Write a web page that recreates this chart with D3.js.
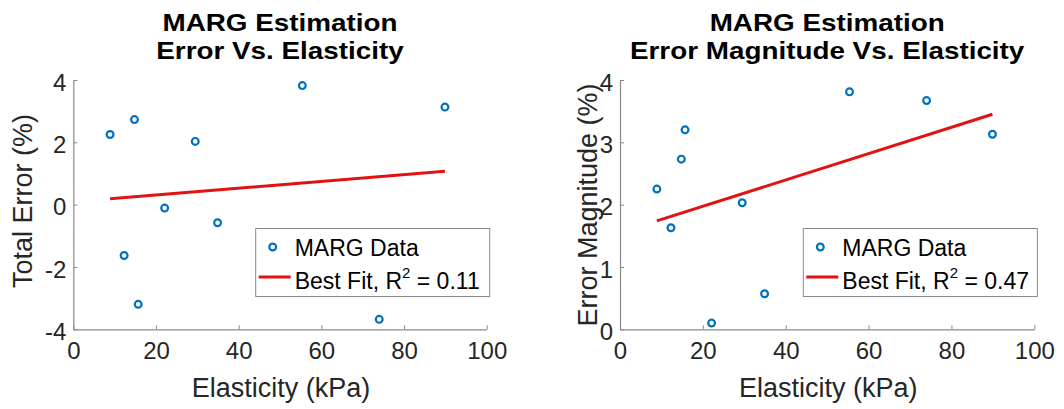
<!DOCTYPE html>
<html>
<head>
<meta charset="utf-8">
<script src="https://cdn.jsdelivr.net/npm/d3@7"></script>
<style>
  body { margin: 0; background: #fff; }
  text { font-family: "Liberation Sans", Arial, sans-serif; }
</style>
</head>
<body>
<div id="chart"></div>
<script>
// data
var elasticity = [8.9, 12.3, 14.8, 15.7, 22.1, 29.5, 34.9, 55.4, 74.0, 89.9]
var totalError = [2.25, -1.63, 2.73, -3.20, -0.11, 2.03, -0.58, 3.82, -3.68, 3.13]
var errorMag = [2.25, 1.63, 2.73, 3.20, 0.10, 2.03, 0.57, 3.81, 3.67, 3.13]

var fitX = [8.9, 89.9]
var fitTotal = [0.19, 1.07]
var fitMag = [1.74, 3.45]

var xTicks = [0, 20, 40, 60, 80, 100]
var yTicksTotal = [-4, -2, 0, 2, 4]
var yTicksMag = [0, 1, 2, 3, 4]

var svg = d3.select("#chart")
    .append("svg")
    .attr("width", 1064)
    .attr("height", 409)

svg.append("rect").attr("width", 1064).attr("height", 409).attr("fill", "#fff")

// plain labels, hyphen minus like the original
var fmt = function (d) { return String(d) }

function panel(o) {
    var x = d3.scaleLinear().domain([0, 100]).range([o.left, o.right])
    var y = d3.scaleLinear().domain(o.yDomain).range([329.3, 80])
    var g = svg.append("g")
    var cx = (o.left + o.right) / 2

    // title (the original export is a bit wider than Arial)
    o.title.forEach(function (t, i) {
        g.append("text")
            .attr("transform", "translate(" + cx + "," + (31 + i * 28) + ") scale(1.16,1)")
            .attr("text-anchor", "middle")
            .attr("font-size", 24)
            .attr("font-weight", "bold")
            .attr("fill", "#000")
            .text(t)
    })

    // x axis
    var xa = g.append("g")
        .attr("transform", "translate(0,329.3)")
        .call(d3.axisBottom(x).tickValues(xTicks).tickFormat(fmt)
            .tickSizeInner(-4).tickSizeOuter(0).tickPadding(13))
    // y axis
    var ya = g.append("g")
        .attr("transform", "translate(" + o.left + ",0)")
        .call(d3.axisLeft(y).tickValues(o.yTicks).tickFormat(fmt)
            .tickSizeInner(-4).tickSizeOuter(0).tickPadding(o.yPad))
    ;[xa, ya].forEach(function (a) {
        a.select(".domain").attr("stroke", "#8a8a8a").attr("stroke-width", 1.2)
        a.selectAll(".tick line").attr("stroke", "#8a8a8a")
        a.selectAll(".tick text")
            .attr("font-size", 24)
            .attr("fill", "#262626")
            .style("font-family", "'Liberation Sans', Arial, sans-serif")
    })
    ya.selectAll(".tick text").attr("dy", "0.42em")
    xa.selectAll(".tick text").attr("dy", "0.71em")

    // axis labels
    g.append("text")
        .attr("x", cx + 1)
        .attr("y", 397)
        .attr("text-anchor", "middle")
        .attr("font-size", 27)
        .attr("fill", "#262626")
        .text("Elasticity (kPa)")

    g.append("text")
        .attr("transform", "translate(" + o.yLabelX + "," + o.yLabelY + ") rotate(-90)")
        .attr("text-anchor", "middle")
        .attr("font-size", 27)
        .attr("fill", "#262626")
        .text(o.yLabel)

    // fit line
    g.append("line")
        .attr("x1", x(fitX[0])).attr("y1", y(o.fit[0]))
        .attr("x2", x(fitX[1])).attr("y2", y(o.fit[1]))
        .attr("stroke", "#e31212")
        .attr("stroke-width", 3)

    // points
    g.selectAll("circle.pt")
        .data(elasticity)
        .enter().append("circle")
        .attr("class", "pt")
        .attr("cx", function (d) { return x(d) })
        .attr("cy", function (d, i) { return y(o.values[i]) })
        .attr("r", 3.4)
        .attr("fill", "none")
        .attr("stroke", "#0072BD")
        .attr("stroke-width", 2.2)

    // legend
    var lx = o.right - 231, ly = 228.5
    var lg = g.append("g").attr("transform", "translate(" + lx + "," + ly + ")")
    lg.append("rect")
        .attr("width", 234).attr("height", 68)
        .attr("fill", "#fff")
        .attr("stroke", "#8a8a8a")
        .attr("stroke-width", 1)
    lg.append("circle")
        .attr("cx", 17).attr("cy", 18.5).attr("r", 3.4)
        .attr("fill", "none").attr("stroke", "#0072BD").attr("stroke-width", 2.2)
    lg.append("text")
        .attr("x", 39).attr("y", 27)
        .attr("font-size", 23)
        .attr("fill", "#000")
        .text("MARG Data")
    lg.append("line")
        .attr("x1", 3).attr("x2", 35).attr("y1", 48.5).attr("y2", 48.5)
        .attr("stroke", "#e31212").attr("stroke-width", 3)
    var t = lg.append("text")
        .attr("x", 39).attr("y", 60)
        .attr("font-size", 23)
        .attr("fill", "#000")
    t.append("tspan").text("Best Fit, R")
    t.append("tspan").attr("dy", -11).attr("font-size", 15).text("2")
    t.append("tspan").attr("dy", 11).text(" = " + o.r2)
}

panel({
    left: 73.3, right: 486.7,
    yDomain: [-4, 4], yTicks: yTicksTotal, yPad: 7,
    values: totalError, fit: fitTotal,
    title: ["MARG Estimation", "Error Vs. Elasticity"],
    yLabel: "Total Error (%)", yLabelX: 32, yLabelY: 201,
    r2: "0.11"
})

panel({
    left: 620, right: 1034.3,
    yDomain: [0, 4], yTicks: yTicksMag, yPad: 7,
    values: errorMag, fit: fitMag,
    title: ["MARG Estimation", "Error Magnitude Vs. Elasticity"],
    yLabel: "Error Magnitude (%)", yLabelX: 597, yLabelY: 205,
    r2: "0.47"
})
</script>
</body>
</html>
